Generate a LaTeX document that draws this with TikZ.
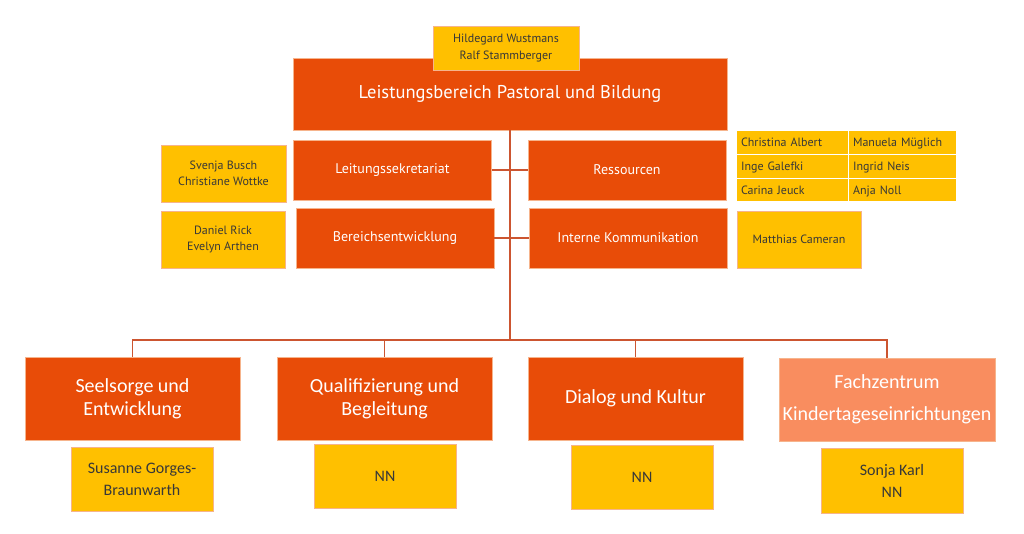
\documentclass[tikz,border=0pt]{standalone}
\usepackage{fontspec}
\setmainfont{Carlito}
\newfontfamily\topfont{PT Sans}
\definecolor{org}{HTML}{E84C08}
\definecolor{lorg}{HTML}{F98D5F}
\definecolor{ylw}{HTML}{FFC000}
\definecolor{txt}{HTML}{383838}
\definecolor{bord}{HTML}{F6B48C}
\definecolor{ln}{HTML}{CC5530}
\tikzset{
  box/.style={draw=bord, line width=0.8pt, inner sep=0pt, align=center},
  obox/.style={box, fill=org, text=white},
  lbox/.style={box, fill=lorg, text=white},
  ybox/.style={box, fill=ylw, text=txt, font=\topfont\fontsize{12}{16.5}\selectfont},
  cell/.style={draw=white, line width=1pt, fill=ylw, text=txt, inner sep=0pt, anchor=north west, minimum height=24pt, text depth=0pt, font=\topfont\fontsize{12}{14}\selectfont},
  conn/.style={draw=ln, line width=1.2pt}
}
\begin{document}
\begin{tikzpicture}[x=1pt,y=-1pt]
\useasboundingbox (0,0) rectangle (1024,533);
% top
\node[obox, minimum width=434pt, minimum height=72pt, font=\topfont\fontsize{18.5}{24}\selectfont] (main) at (510,94) {Leistungsbereich Pastoral und Bildung};
\node[ybox, minimum width=146pt, minimum height=44pt] (hw) at (506,48) {Hildegard Wustmans\\Ralf Stammberger};
% second level
\tikzset{sec/.style={obox, minimum width=198pt, minimum height=60pt, font=\topfont\fontsize{14}{17}\selectfont}}
\node[sec] (ls) at (392.5,170) {Leitungssekretariat};
\node[sec] (be) at (395,238) {Bereichsentwicklung};
\node[sec] (re) at (627,170) {Ressourcen};
\node[sec] (ik) at (628,238) {Interne Kommunikation};
\node[ybox, minimum width=125pt, minimum height=57pt] (sv) at (223.5,173.5) {Svenja Busch\\Christiane Wottke};
\node[ybox, minimum width=124pt, minimum height=57pt] (dr) at (223,239.5) {Daniel Rick\\Evelyn Arthen};
\node[ybox, minimum width=124pt, minimum height=57pt] (mc) at (799,239.5) {Matthias Cameran};
% table
\tikzset{c1/.style={cell, minimum width=112pt, text width=105pt, align=left},
         c2/.style={cell, minimum width=108pt, text width=101pt, align=left}}
\node[c1] (t11) at (736,130) {\hspace*{1pt}Christina Albert};
\node[c2] (t12) at (848,130) {\hspace*{1pt}Manuela Müglich};
\node[c1] (t21) at (736,154) {\hspace*{1pt}Inge Galefki};
\node[c2] (t22) at (848,154) {\hspace*{1pt}Ingrid Neis};
\node[c1, minimum height=23pt] (t31) at (736,178) {\hspace*{1pt}Carina Jeuck};
\node[c2, minimum height=23pt] (t32) at (848,178) {\hspace*{1pt}Anja Noll};
% bottom level
\tikzset{bot/.style={minimum width=215pt, minimum height=83pt, font=\fontsize{20}{23}\selectfont}}
\node[obox, bot] (s1) at (132.5,398.5) {Seelsorge und\\Entwicklung};
\node[obox, bot] (s2) at (384.5,398.5) {Qualifizierung und\\Begleitung};
\node[obox, bot] (s3) at (635.5,398.5) {Dialog und Kultur};
\node[lbox, bot, minimum width=216pt, font=\fontsize{20}{32}\selectfont] (s4) at (887,399.5) {Fachzentrum\\Kindertageseinrichtungen};
\tikzset{pbox/.style={ybox, minimum width=142pt, minimum height=64pt, font=\fontsize{16}{22}\selectfont}}
\node[pbox] (p1) at (142,479) {Susanne Gorges-\\Braunwarth};
\node[pbox] (p2) at (385,476) {NN};
\node[pbox] (p3) at (642,477) {NN};
\node[pbox, minimum height=65pt] (p4) at (892,480.5) {Sonja Karl\\NN};
% connectors
\coordinate (bar) at (510,340);
\draw[conn] (main.south) -- (bar);
\draw[conn] (ls.east) -- (ls.east -| bar);
\draw[conn] (re.west) -- (re.west -| bar);
\draw[conn] (be.east) -- (be.east -| bar);
\draw[conn] (ik.west) -- (ik.west -| bar);
\draw[conn] (s1.north) |- (bar) -| (s4.north);
\draw[conn] (s2.north) -- (s2.north |- bar);
\draw[conn] (s3.north) -- (s3.north |- bar);
\end{tikzpicture}
\end{document}
